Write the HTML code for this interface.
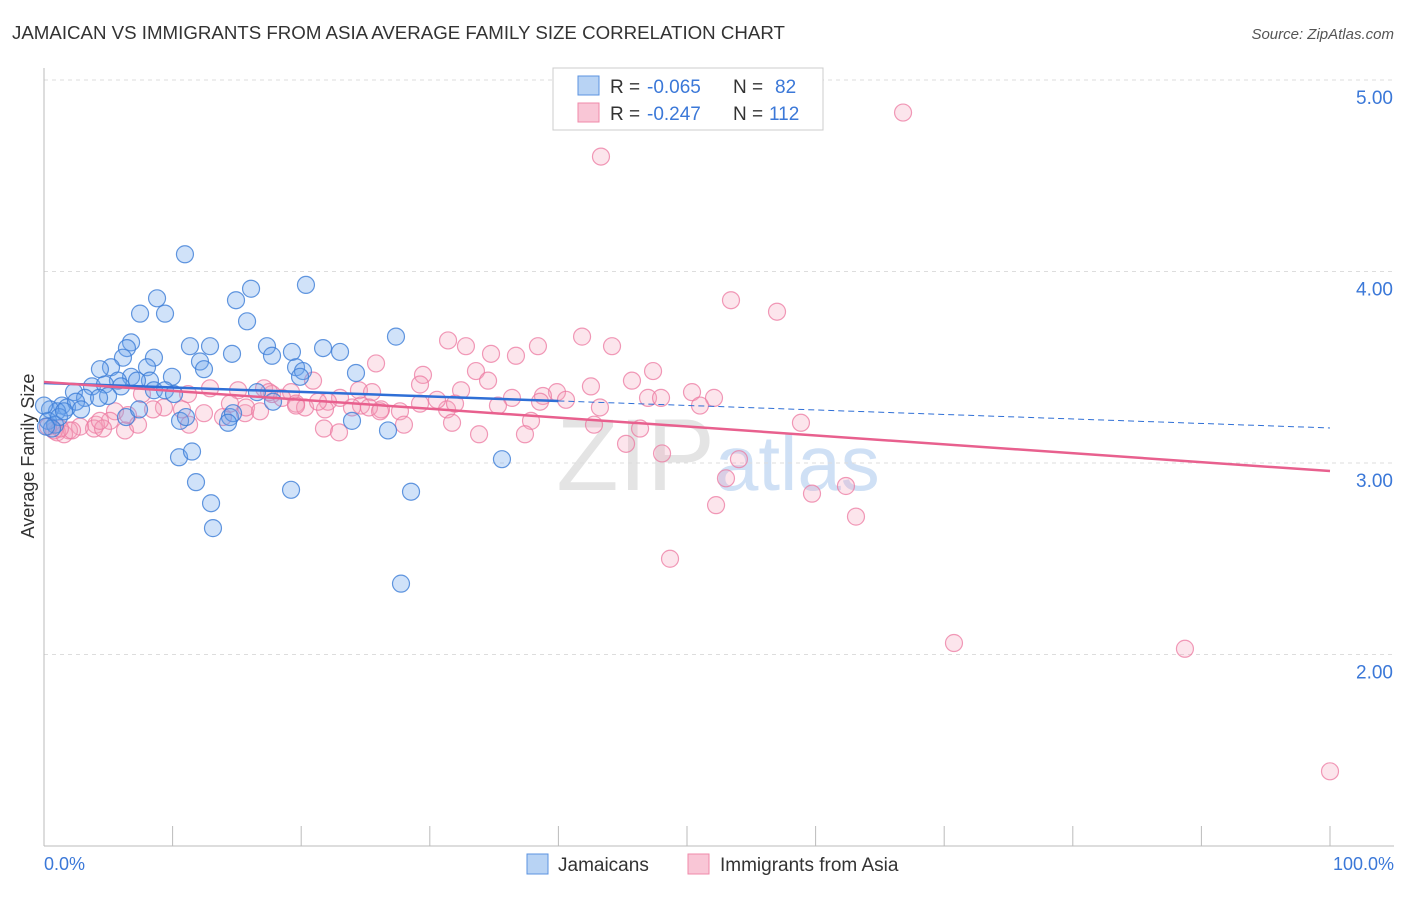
<!DOCTYPE html>
<html><head><meta charset="utf-8"><style>
body{margin:0;background:#fff;font-family:"Liberation Sans",sans-serif;}
svg text{font-family:"Liberation Sans",sans-serif;}
</style></head><body>
<svg id="chart" width="1406" height="892" xmlns="http://www.w3.org/2000/svg">
<text x="12" y="39" font-size="18.7" fill="#333">JAMAICAN VS IMMIGRANTS FROM ASIA AVERAGE FAMILY SIZE CORRELATION CHART</text>
<text x="1394" y="39" font-size="15" fill="#555" font-style="italic" text-anchor="end">Source: ZipAtlas.com</text>
<text x="718" y="490" font-size="102" fill="#e4e4e4" text-anchor="middle" font-family="Liberation Serif">ZIP<tspan fill="#cfe0f5" font-family="Liberation Sans" font-size="78">atlas</tspan></text>
<g id="grid"></g>
<g id="axes"></g>
<g id="pts"></g>
<g id="trend"></g>
<text transform="translate(34,456) rotate(-90)" font-size="18" fill="#333" text-anchor="middle">Average Family Size</text>
<text x="44" y="870" font-size="18" fill="#3b78d8">0.0%</text>
<text x="1394" y="870" font-size="18" fill="#3b78d8" text-anchor="end">100.0%</text>
<g>
<rect x="553" y="68" width="270" height="62" fill="#fff" stroke="#ccc"/>
<rect x="578" y="76" width="21" height="19" fill="#b8d3f4" stroke="#5b93e0"/>
<text x="610" y="93" font-size="19" fill="#333">R =</text>
<text x="647" y="93" font-size="19" fill="#3b78d8">-0.065</text>
<text x="733" y="93" font-size="19" fill="#333">N =</text>
<text x="775" y="93" font-size="19" fill="#3b78d8">82</text>
<rect x="578" y="103" width="21" height="19" fill="#f9c6d6" stroke="#f08aaa"/>
<text x="610" y="120" font-size="19" fill="#333">R =</text>
<text x="647" y="120" font-size="19" fill="#3b78d8">-0.247</text>
<text x="733" y="120" font-size="19" fill="#333">N =</text>
<text x="769" y="120" font-size="19" fill="#3b78d8">112</text>
</g>
<g>
<rect x="527" y="854" width="21" height="20" fill="#b8d3f4" stroke="#5b93e0"/>
<text x="558" y="871" font-size="19" fill="#333">Jamaicans</text>
<rect x="688" y="854" width="21" height="20" fill="#f9c6d6" stroke="#f08aaa"/>
<text x="720" y="871" font-size="19" fill="#333">Immigrants from Asia</text>
</g>
</svg>
<script>
const blueX=[10.96,20.37,16.10,8.79,14.93,7.47,9.41,15.79,27.37,6.77,11.35,12.91,17.34,21.70,6.45,19.28,23.02,14.62,8.55,6.14,17.73,12.13,5.21,4.35,8.01,12.44,19.60,20.14,9.95,6.77,24.26,19.91,5.75,8.24,3.73,2.33,4.74,5.99,7.23,8.55,9.41,10.11,4.98,3.19,4.28,1.40,1.79,2.49,2.88,1.01,0.47,0.31,0.86,1.17,0.62,0.16,1.56,6.38,7.39,10.58,11.04,14.46,14.70,14.31,16.56,17.81,23.95,26.75,10.50,11.51,35.61,11.82,19.21,28.54,12.99,13.14,27.76,0];
const blueY=[4.09,3.93,3.91,3.86,3.85,3.78,3.78,3.74,3.66,3.63,3.61,3.61,3.61,3.60,3.60,3.58,3.58,3.57,3.55,3.55,3.56,3.53,3.50,3.49,3.50,3.49,3.50,3.48,3.45,3.45,3.47,3.45,3.43,3.43,3.40,3.37,3.41,3.40,3.43,3.38,3.38,3.36,3.35,3.34,3.34,3.30,3.29,3.32,3.28,3.27,3.28,3.22,3.20,3.24,3.18,3.19,3.27,3.24,3.28,3.22,3.24,3.24,3.26,3.21,3.37,3.32,3.22,3.17,3.03,3.06,3.02,2.90,2.86,2.85,2.79,2.66,2.37,3.30];
const pinkX=[66.80,43.31,53.42,57.00,41.84,31.42,44.17,32.81,38.41,34.76,36.70,25.82,47.36,29.47,45.72,33.59,34.53,20.92,29.24,32.43,42.53,50.39,52.10,17.11,12.91,19.21,24.49,17.73,25.51,39.89,38.80,40.59,36.39,46.97,47.98,35.30,31.34,15.09,17.50,18.51,23.02,22.08,24.65,26.21,27.68,29.24,30.56,11.20,7.62,9.33,10.73,12.44,13.92,15.63,19.60,20.30,21.85,23.95,25.27,19.60,27.99,31.73,26.13,37.87,42.77,46.35,58.86,5.52,6.53,8.48,5.13,4.04,2.80,1.94,1.01,1.56,2.18,3.89,4.59,6.30,7.31,11.28,21.77,22.94,33.83,37.40,45.26,48.06,54.04,53.03,59.72,62.36,52.26,63.14,48.68,70.76,88.72,100,0.78,1.24,0.31,4.35,14.46,15.71,16.80,21.31,31.96,43.23,38.57,51.01];
const pinkY=[4.83,4.60,3.85,3.79,3.66,3.64,3.61,3.61,3.61,3.57,3.56,3.52,3.48,3.46,3.43,3.48,3.43,3.43,3.41,3.38,3.40,3.37,3.34,3.39,3.39,3.37,3.38,3.36,3.37,3.37,3.35,3.33,3.34,3.34,3.34,3.30,3.28,3.38,3.37,3.34,3.34,3.32,3.30,3.28,3.27,3.31,3.33,3.36,3.36,3.29,3.28,3.26,3.24,3.26,3.31,3.29,3.28,3.29,3.29,3.30,3.20,3.21,3.27,3.22,3.20,3.18,3.21,3.27,3.25,3.28,3.22,3.20,3.19,3.17,3.16,3.15,3.17,3.18,3.18,3.17,3.20,3.20,3.18,3.16,3.15,3.15,3.10,3.05,3.02,2.92,2.84,2.88,2.78,2.72,2.50,2.06,2.03,1.39,3.17,3.18,3.19,3.22,3.31,3.29,3.27,3.32,3.31,3.29,3.32,3.30];
const blueTrend=[3.418,3.183];
const pinkTrend=[3.423,2.958];
const yTicks=[2,3,4,5];
const yTickLabels=["2.00","3.00","4.00","5.00"];
const xTicks=[0,10,20,30,40,50,60,70,80,90,100];

const NS="http://www.w3.org/2000/svg";
const sx=p=>44+p*12.86;
const sy=v=>846-(v-1)*191.5;
function mk(tag,attrs,parent){const e=document.createElementNS(NS,tag);for(const k in attrs)e.setAttribute(k,attrs[k]);parent.appendChild(e);return e;}
const grid=document.getElementById('grid'),axes=document.getElementById('axes'),pts=document.getElementById('pts'),trend=document.getElementById('trend');
yTicks.forEach((v,i)=>{
  const l=mk('line',{x1:44,x2:1394,y1:sy(v),y2:sy(v),stroke:'#ddd','stroke-dasharray':'4,4'},grid);
  
  
  const t=mk('text',{x:1393,y:sy(v)+24,'font-size':19,fill:'#3b78d8','text-anchor':'end'},grid);
  t.textContent=yTickLabels[i];
  
  
});
const ya=mk('line',{x1:44,x2:44,y1:68,y2:846,stroke:'#bbb'},axes);


const xa=mk('line',{x1:44,x2:1394,y1:846,y2:846,stroke:'#bbb'},axes);


xTicks.forEach(p=>{
  const t=mk('line',{x1:sx(p),x2:sx(p),y1:826,y2:846,stroke:'#bbb'},axes);
  
  
});
function drawPts(X,Y,fill,stroke,name){
  X.forEach((x,i)=>{
    const c=mk('circle',{cx:sx(x),cy:sy(Y[i]),r:8.5,fill:fill,stroke:stroke,'stroke-width':1.2},pts);
    
    
  });
}
drawPts(pinkX,pinkY,'rgba(244,160,188,0.28)','rgba(236,120,160,0.75)','asia-point');
drawPts(blueX,blueY,'rgba(110,165,235,0.32)','rgba(60,125,215,0.8)','jamaican-point');
const bSplit=40;
const bAt=p=>blueTrend[0]+(blueTrend[1]-blueTrend[0])*p/100;
const b1=mk('line',{x1:sx(0),y1:sy(bAt(0)),x2:sx(bSplit),y2:sy(bAt(bSplit)),stroke:'#2f6fd6','stroke-width':2.5},trend);


const b2=mk('line',{x1:sx(bSplit),y1:sy(bAt(bSplit)),x2:sx(100),y2:sy(bAt(100)),stroke:'#2f6fd6','stroke-width':1,'stroke-dasharray':'6,4'},trend);


const p1=mk('line',{x1:sx(0),y1:sy(pinkTrend[0]),x2:sx(100),y2:sy(pinkTrend[1]),stroke:'#e8608e','stroke-width':2.5},trend);


</script>
</body></html>
